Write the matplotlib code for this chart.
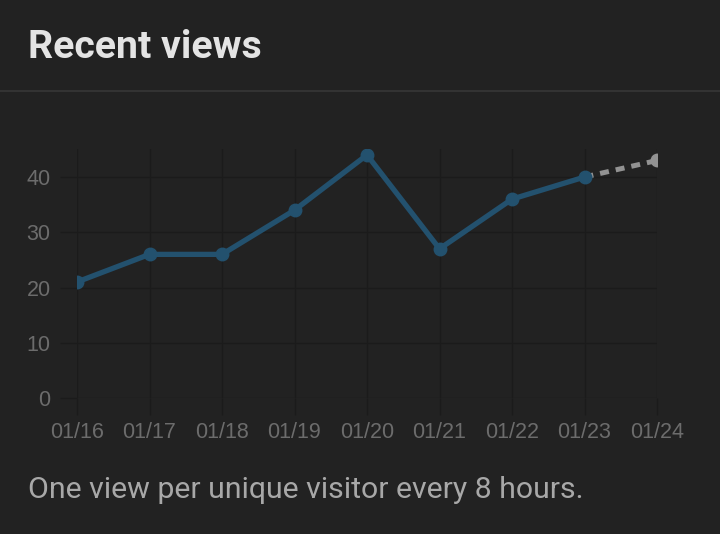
import matplotlib
matplotlib.use("Agg")
import matplotlib.pyplot as plt
from matplotlib.lines import Line2D

dates = ["01/16", "01/17", "01/18", "01/19", "01/20", "01/21", "01/22", "01/23", "01/24"]
views = [21, 26, 26, 34, 44, 27, 36, 40]
projected = [40, 43]
y_ticks = [0, 10, 20, 30, 40]

BG = "#222222"
GRID = "#1b1b1b"
LINE = "#23516e"
TICKC = "#6c6c6c"

plt.rcParams['font.family'] = ['Roboto', 'DejaVu Sans']

fig = plt.figure(figsize=(7.2, 5.34), dpi=100, facecolor=BG)
ax = fig.add_axes([77/720, (534-398)/534, 580/720, 248.6/534])
ax.set_facecolor(BG)

x = list(range(len(dates)))
ax.plot(x[len(views)-1:len(views)+1], projected, linestyle=(0, (1.8, 1.4)), color="#929292",
        linewidth=3.6, marker="o", markersize=9, markevery=[1], zorder=3, clip_on=True,
        dash_capstyle="butt")
ax.plot(x[:len(views)], views, color=LINE, linewidth=3.8, marker="o", markersize=9,
        zorder=4, clip_on=True)

ax.set_xlim(0, len(dates)-1)
ax.set_ylim(0, 45)
ax.set_xticks(x)
ax.set_xticklabels(dates)
ax.set_yticks(y_ticks)
ax.grid(True, color=GRID, linewidth=1.0)
ax.set_axisbelow(True)
for s in ax.spines.values():
    s.set_visible(False)
tick_font = ['Liberation Sans', 'DejaVu Sans']
ax.tick_params(axis='x', length=12, width=1.0, color=GRID, labelcolor=TICKC, labelsize=15.5, pad=5)
ax.tick_params(axis='y', length=12, width=1.0, color=GRID, labelcolor=TICKC, labelsize=15.5, pad=7)
for lab in ax.get_xticklabels() + ax.get_yticklabels():
    lab.set_family(tick_font)

fig.text(28/720, 1-47/534, "Recent views", color="#e4e4e4", fontsize=28.3, fontweight="bold",
         ha="left", va="center")
fig.add_artist(Line2D([0, 1], [1-90.5/534, 1-90.5/534], color="#333333", linewidth=1.5))
fig.text(28/720, 1-490/534, "One view per unique visitor every 8 hours.", color="#a8a8a8",
         fontsize=21.8, ha="left", va="center")

fig.savefig("out.png", dpi=100, facecolor=BG)
